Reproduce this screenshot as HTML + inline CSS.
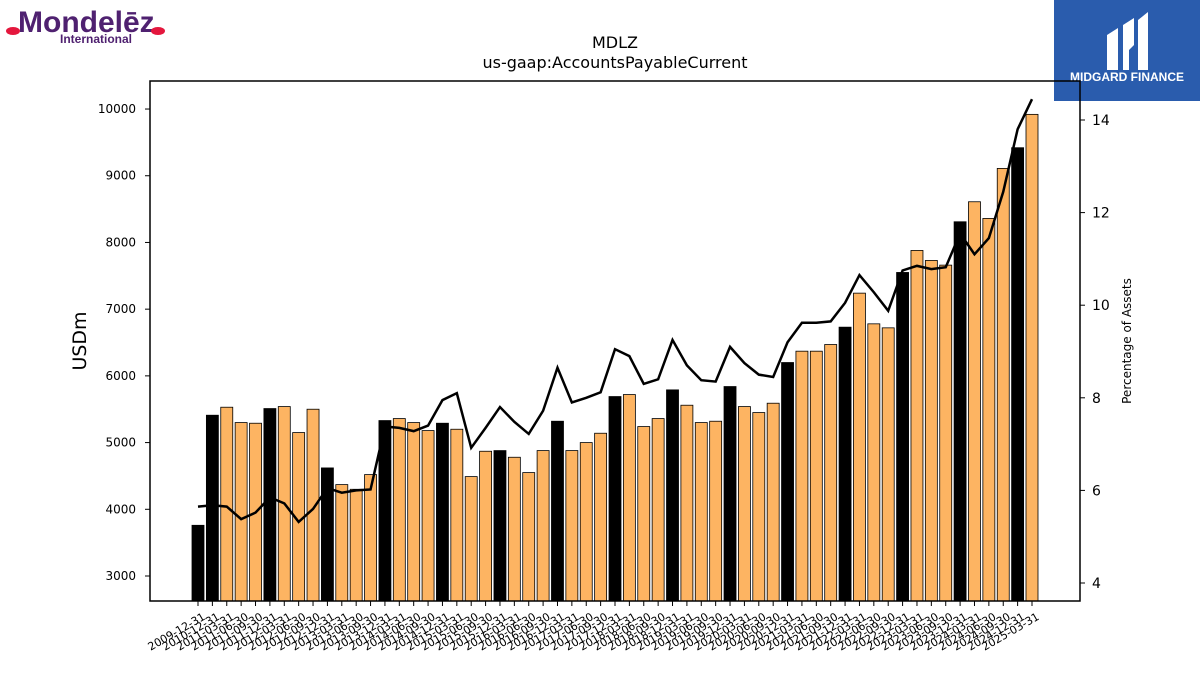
<!DOCTYPE html>
<html><head><meta charset="utf-8"><style>
body{margin:0;background:#fff;width:1200px;height:675px;overflow:hidden;font-family:"Liberation Sans","DejaVu Sans",sans-serif}
</style></head><body>
<svg id="c" width="1200" height="675" xmlns="http://www.w3.org/2000/svg" font-family="DejaVu Sans, Liberation Sans, sans-serif">
<g>
<text x="18" y="32" font-size="30" font-weight="bold" fill="#4f2170" font-family="Liberation Sans, sans-serif">Mondelēz</text>
<text x="60" y="43" font-size="12" font-weight="bold" fill="#4f2170" font-family="Liberation Sans, sans-serif">International</text>
<ellipse cx="13" cy="31" rx="7" ry="4" fill="#e4173d"/><ellipse cx="158" cy="31" rx="7" ry="4" fill="#e4173d"/>
</g>
<g>
<rect x="1054" y="0" width="146" height="101" fill="#2a5cad"/>
<path d="M1107 70 V35 L1118 28 V70 Z M1123 70 V25 L1134 18 V45 L1129 50 V70 Z M1138 70 V20 L1148 12 V70 Z" fill="#fff"/>
<text x="1127" y="81" font-size="12" font-weight="bold" fill="#fff" text-anchor="middle" font-family="Liberation Sans, sans-serif">MIDGARD FINANCE</text>
</g>
<text x="615" y="48" font-size="16" text-anchor="middle">MDLZ</text>
<text x="615" y="68" font-size="16" text-anchor="middle">us-gaap:AccountsPayableCurrent</text>
<text transform="translate(86,341) rotate(-90)" font-size="19" text-anchor="middle">USDm</text>
<text transform="translate(1131,341) rotate(-90)" font-size="12" text-anchor="middle">Percentage of Assets</text>
<g id="bars"></g><g id="line"></g><g id="axes"></g>
<rect x="150" y="81" width="930" height="520" fill="none" stroke="#000" stroke-width="1.5"/>
</svg>
<script>
const categories=["2009-12-31","2010-12-31"];
for(let y=2011;y<=2024;y++){for(const q of["03-31","06-30","09-30","12-31"])categories.push(y+"-"+q);}
categories.push("2025-03-31");
const payables=[3760,5410,5530,5300,5290,5510,5540,5150,5500,4620,4370,4300,4520,5330,5360,5300,5180,5290,5200,4490,4870,4880,4780,4550,4880,5320,4880,5000,5140,5690,5720,5240,5360,5790,5560,5300,5320,5840,5540,5450,5590,6200,6370,6370,6470,6730,7240,6780,6720,7550,7880,7730,7660,8310,8610,8360,9110,9420,9920];
const pctAssets=[5.65,5.68,5.65,5.38,5.52,5.85,5.72,5.32,5.6,6.05,5.95,6.0,6.02,7.38,7.35,7.28,7.4,7.95,8.1,6.92,7.35,7.8,7.48,7.22,7.72,8.65,7.9,8.0,8.12,9.05,8.9,8.3,8.4,9.25,8.7,8.38,8.35,9.1,8.75,8.5,8.45,9.2,9.62,9.62,9.65,10.05,10.65,10.28,9.88,10.75,10.85,10.78,10.82,11.55,11.1,11.45,12.45,13.8,14.45];
const leftTicks=[3000,4000,5000,6000,7000,8000,9000,10000];
const rightTicks=[4,6,8,10,12,14];
const NS="http://www.w3.org/2000/svg";
const yL=v=>576-(v-3000)*0.06671;
const yR=p=>583-(p-4)*46.3;
const xC=i=>198+i*(1032-198)/(categories.length-1);
function mk(t,a,p){const e=document.createElementNS(NS,t);for(const k in a)e.setAttribute(k,a[k]);p.appendChild(e);return e;}
const bars=document.getElementById('bars'),line=document.getElementById('line'),axes=document.getElementById('axes');
const bw=12;
payables.forEach((v,i)=>{
 const black=categories[i].endsWith("12-31");
 const r=mk('rect',{x:xC(i)-bw/2,y:yL(v),width:bw,height:601-yL(v),fill:black?'#000':'#fdb462',stroke:'#000','stroke-width':0.8},bars);
 
 
 const t=mk('line',{x1:xC(i),x2:xC(i),y1:601,y2:606,stroke:'#000'},axes);
 
 
 const lb=mk('text',{transform:`translate(${xC(i)+4},612) rotate(-30)`,'font-size':11,'text-anchor':'end','dominant-baseline':'hanging'},axes);
 lb.textContent=categories[i];
 
 
});
const pl=mk('polyline',{points:pctAssets.map((p,i)=>xC(i)+','+yR(p)).join(' '),fill:'none',stroke:'#000','stroke-width':2.5},line);


leftTicks.forEach(v=>{
 const t=mk('line',{x1:145,x2:150,y1:yL(v),y2:yL(v),stroke:'#000'},axes);
 
 
 const l=mk('text',{x:136,y:yL(v)+4,'font-size':12,'text-anchor':'end'},axes);
 l.textContent=v;
 
 
});
rightTicks.forEach(v=>{
 const t=mk('line',{x1:1080,x2:1085,y1:yR(v),y2:yR(v),stroke:'#000'},axes);
 
 
 const l=mk('text',{x:1092,y:yR(v)+5,'font-size':14},axes);
 l.textContent=v;
 
 
});
</script>
</body></html>
